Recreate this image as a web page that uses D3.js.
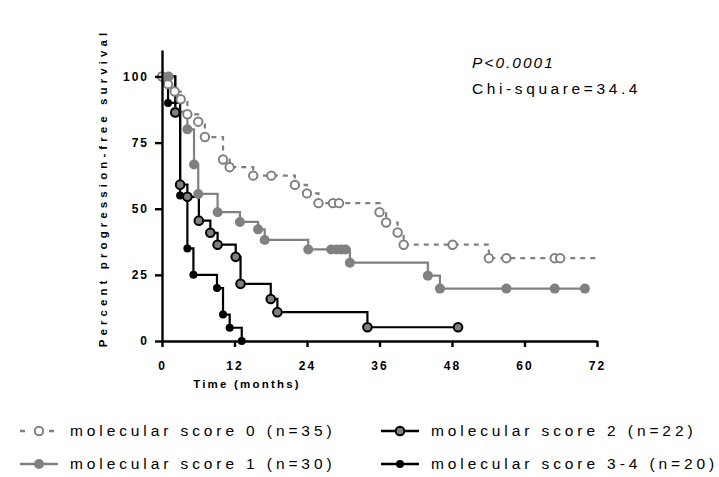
<!DOCTYPE html>
<html>
<head>
<meta charset="utf-8">
<script src="https://cdn.jsdelivr.net/npm/d3@7"></script>
<style>
  body { margin: 0; background: #fff; }
  text { font-family: "Liberation Sans", Arial, sans-serif; }
</style>
</head>
<body>
<div id="chart"></div>
<script>
// Kaplan-Meier points: [months, percent]
const score0 = [[0,100],[1,97.1],[2.1,94.3],[3.1,91.4],[4.2,85.7],[6,82.9],[7.1,77.1],[10.1,68.6],[11.2,65.7],[15.1,62.5],[18.1,62.5],[22,59],[24,55.8],[25.9,52.1],[28.3,52.1],[29.3,52.1],[36,48.7],[37.1,44.8],[39,41],[40,36.4],[48.1,36.4],[54.1,31.3],[57,31.3],[65,31.3],[65.9,31.3]];
const score1 = [[0,100],[1.1,100],[2.2,86.7],[4.2,80],[5.3,66.7],[6,55.6],[9.2,48.7],[12.9,45],[15.9,42.2],[17,38.2],[24.2,34.6],[28,34.6],[28.9,34.6],[29.7,34.6],[30.4,34.6],[31.1,29.6],[44,24.7],[46,19.8],[57,19.8],[65,19.8],[70,19.8]];
const score2 = [[0,100],[2.2,86.4],[3,59.1],[4.2,54.5],[6.1,45.5],[8,40.9],[9.2,36.4],[12.2,31.8],[13,21.6],[18,15.9],[19.1,10.9],[34,5.2],[49,5.2]];
const score34 = [[0,100],[1,90],[3,55],[4.2,35],[5.2,25],[9.1,20],[10.1,10],[11.2,5],[13.2,0]];
const lastTime0 = 72; // dashed line of score 0 runs on to the axis end

const xTicks = [0,12,24,36,48,60,72];
const yTicks = [0,25,50,75,100];
const legendLabels = ["molecular score 0 (n=35)","molecular score 1 (n=30)","molecular score 2 (n=22)","molecular score 3-4 (n=20)"];

const grey = "#808080";
const width = 719, height = 477;

const svg = d3.select("#chart").append("svg")
    .attr("width", width).attr("height", height);

const x = d3.scaleLinear().domain([0, 72]).range([162, 597]);
const y = d3.scaleLinear().domain([0, 110]).range([341, 50]);

const line = d3.line()
    .x(d => x(d[0])).y(d => y(d[1]))
    .curve(d3.curveStepAfter);

// curves
const series = [
  {data: score0.concat([[lastTime0, score0[score0.length-1][1]]]), pts: score0, stroke: grey, dash: "5,5", r: 4.2, fill: "#fff", mstroke: grey, msw: 2},
  {data: score1, pts: score1.slice(1), stroke: grey, dash: null, r: 5, fill: grey, mstroke: grey, msw: 0},
  {data: score2, pts: score2.slice(1), stroke: "#000", dash: null, r: 4.3, fill: grey, mstroke: "#000", msw: 2},
  {data: score34, pts: score34.slice(1), stroke: "#000", dash: null, r: 4, fill: "#000", mstroke: "#000", msw: 0}
];

const plot = svg.append("g");
series.forEach(s => {
  plot.append("path")
      .attr("d", line(s.data))
      .attr("fill", "none")
      .attr("stroke", s.stroke)
      .attr("stroke-width", 2.2)
      .attr("stroke-dasharray", s.dash);
});
series.forEach(s => {
  plot.selectAll(null).data(s.pts).enter().append("circle")
      .attr("cx", d => x(d[0])).attr("cy", d => y(d[1]))
      .attr("r", s.r)
      .attr("fill", s.fill)
      .attr("stroke", s.mstroke)
      .attr("stroke-width", s.msw);
});

// axes
const xAxis = svg.append("g")
    .attr("transform", "translate(0," + y(0) + ")")
    .call(d3.axisBottom(x).tickValues(xTicks).tickSize(6).tickSizeOuter(0).tickPadding(14));
const yAxis = svg.append("g")
    .attr("transform", "translate(" + x(0) + ",0)")
    .call(d3.axisLeft(y).tickValues(yTicks).tickSize(7).tickSizeOuter(0).tickPadding(6));

[xAxis, yAxis].forEach(a => {
  a.selectAll("path, line").attr("stroke", "#000").attr("stroke-width", 2.4);
  a.selectAll("text")
      .attr("fill", "#000")
      .style("font-size", "12px")
      .style("font-weight", "bold")
      .style("letter-spacing", "2px");
});

svg.append("text")
    .attr("x", 247).attr("y", 388)
    .attr("text-anchor", "middle")
    .style("font-size", "11.5px").style("font-weight", "bold").style("letter-spacing", "2.2px")
    .text("Time (months)");

svg.append("text")
    .attr("transform", "translate(107,188) rotate(-90)")
    .attr("text-anchor", "middle")
    .style("font-size", "11.5px").style("font-weight", "bold").style("letter-spacing", "4.1px")
    .text("Percent progression-free survival");

// statistics
svg.append("text")
    .attr("x", 472).attr("y", 68)
    .style("font-size", "15.5px").style("font-style", "italic").style("letter-spacing", "2px")
    .text("P<0.0001");
svg.append("text")
    .attr("x", 472).attr("y", 94)
    .style("font-size", "15.5px").style("letter-spacing", "3.6px")
    .text("Chi-square=34.4");

// legend
const legendPos = [[20, 431], [20, 464], [381, 431], [381, 464]];
const legend = svg.append("g");
legendLabels.forEach((lab, i) => {
  const s = series[i];
  const [lx, ly] = legendPos[i];
  const g = legend.append("g").attr("transform", "translate(" + lx + "," + ly + ")");
  g.append("line")
      .attr("x1", 0).attr("x2", 38).attr("y1", 0).attr("y2", 0)
      .attr("stroke", s.stroke).attr("stroke-width", 2.4)
      .attr("stroke-dasharray", i === 0 ? "5,9,5,10" : null);
  g.append("circle")
      .attr("cx", 19).attr("cy", 0).attr("r", s.r)
      .attr("fill", s.fill).attr("stroke", s.mstroke).attr("stroke-width", s.msw);
  g.append("text")
      .attr("x", 50).attr("y", 5)
      .style("font-size", "15.5px").style("letter-spacing", "3.9px")
      .text(lab);
});
</script>
</body>
</html>
